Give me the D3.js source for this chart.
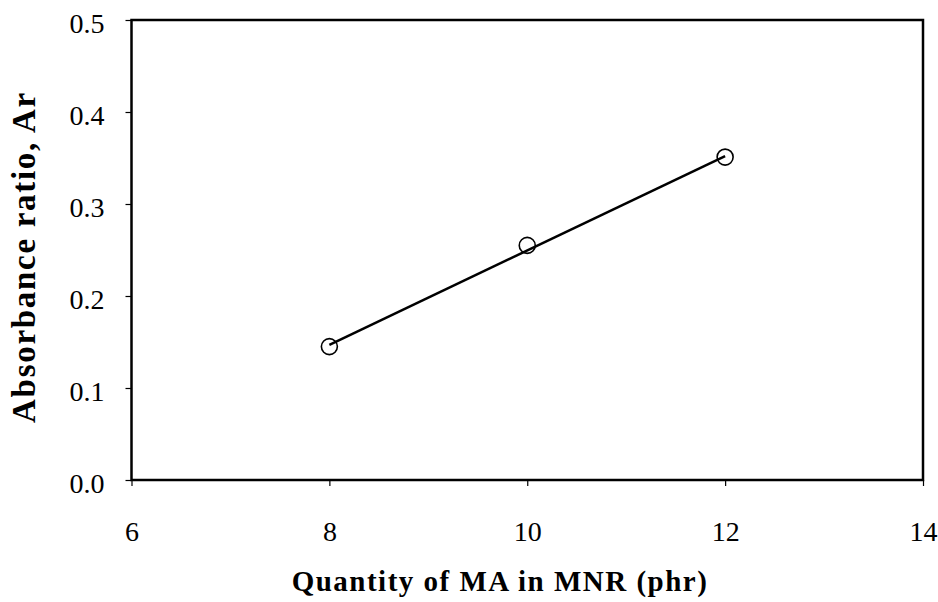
<!DOCTYPE html>
<html><head><meta charset="utf-8">
<script src="https://cdn.jsdelivr.net/npm/d3@7"></script>
<style>body{margin:0;background:#fff}svg{display:block}</style>
</head><body>
<svg id="c" width="938" height="602"></svg>
<script>
const xValues = [8, 10, 12];
const yValues = [0.145, 0.255, 0.351];
const trendX = [8, 12];
const trendY = [0.147, 0.352];
const xTicks = [6, 8, 10, 12, 14];
const yTicks = [0.0, 0.1, 0.2, 0.3, 0.4, 0.5];
const xTitle = "Quantity of MA in MNR (phr)";
const yTitle = "Absorbance ratio, Ar";

const svg = d3.select("#c");
const m = {l: 131.5, r: 923, t: 20, b: 480};
const x = d3.scaleLinear().domain([6, 14]).range([m.l, m.r]);
const y = d3.scaleLinear().domain([0, 0.5]).range([m.b, m.t]);
const font = "'Liberation Serif', 'Times New Roman', serif";

// frame
svg.append("rect").attr("x", m.l).attr("y", m.t).attr("width", m.r - m.l).attr("height", m.b - m.t)
  .attr("fill", "none").attr("stroke", "#000").attr("stroke-width", 2.5);

const xAxis = svg.append("g").attr("transform", `translate(0,${m.b})`)
  .call(d3.axisBottom(x).tickValues(xTicks).tickFormat(d3.format("d")).tickSize(6).tickPadding(35));
const yAxis = svg.append("g").attr("transform", `translate(${m.l},0)`)
  .call(d3.axisLeft(y).tickValues(yTicks).tickFormat(d3.format(".1f")).tickSize(6).tickPadding(21));
[xAxis, yAxis].forEach(a => {
  a.select(".domain").remove();
  a.selectAll(".tick line").attr("stroke", "#000").attr("stroke-width", 1.2);
  a.selectAll(".tick text").attr("font-family", font).attr("font-size", 28).attr("fill", "#000");
});
yAxis.selectAll(".tick text").attr("dy", "0.45em");

// trend line
const trend = trendX.map((d, i) => [d, trendY[i]]);
svg.append("path").datum(trend)
  .attr("d", d3.line().x(d => x(d[0])).y(d => y(d[1])))
  .attr("stroke", "#000").attr("stroke-width", 2.5).attr("fill", "none");

// markers
svg.selectAll("circle.pt").data(xValues.map((d, i) => [d, yValues[i]])).join("circle")
  .attr("class", "pt").attr("cx", d => x(d[0])).attr("cy", d => y(d[1])).attr("r", 8)
  .attr("fill", "none").attr("stroke", "#000").attr("stroke-width", 1.6);

// titles
svg.append("text").attr("x", 500).attr("y", 591).attr("text-anchor", "middle")
  .attr("font-family", font).attr("font-weight", "bold").attr("font-size", 29)
  .attr("letter-spacing", 1.5).text(xTitle);
svg.append("text").attr("transform", "translate(35,257) rotate(-90)").attr("text-anchor", "middle")
  .attr("font-family", font).attr("font-weight", "bold").attr("font-size", 33)
  .attr("letter-spacing", 1.7).text(yTitle);
</script>
</body></html>
